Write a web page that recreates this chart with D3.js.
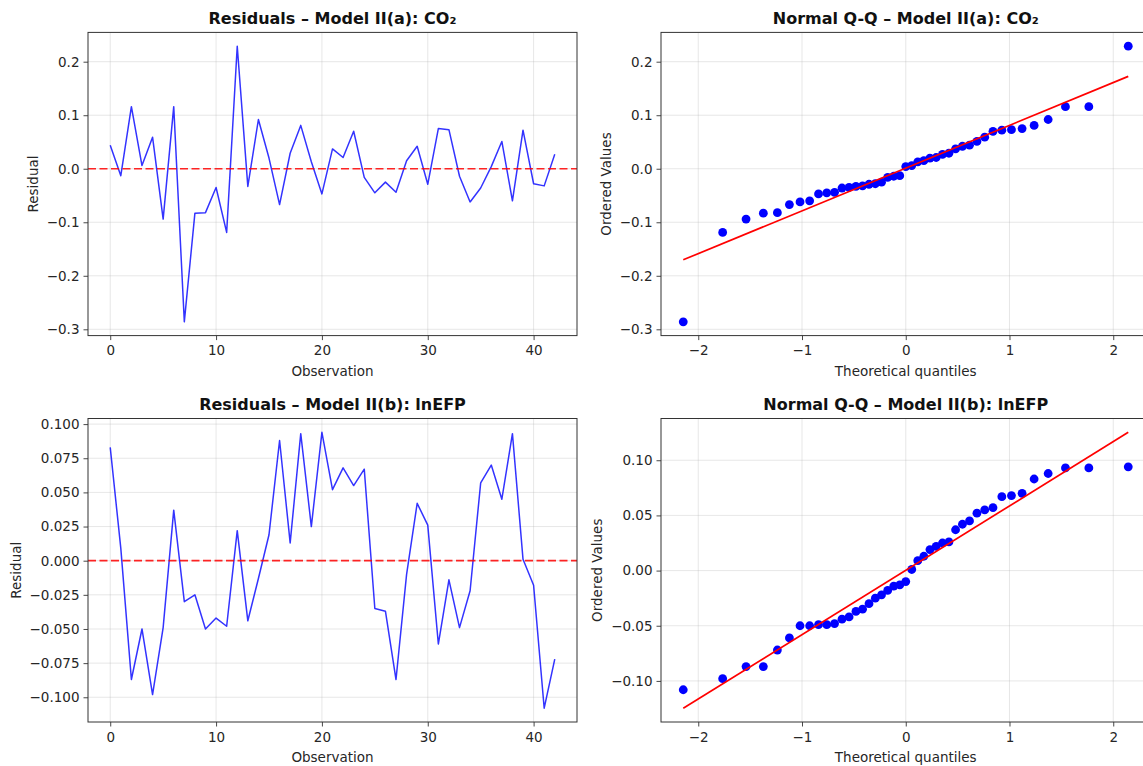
<!DOCTYPE html>
<html>
<head>
<meta charset="utf-8">
<script src="https://cdn.jsdelivr.net/npm/d3@7"></script>
<style>
  html, body { margin: 0; padding: 0; background: #ffffff; }
  svg { display: block; font-family: "DejaVu Sans", sans-serif; }
</style>
</head>
<body>
<svg id="chart" width="1143" height="766"></svg>
<script>
// ---------- data ----------
const residualsCO2 = [0.044, -0.013, 0.116, 0.006, 0.059, -0.094, 0.116, -0.286, -0.083, -0.082,
  -0.035, -0.119, 0.229, -0.033, 0.092, 0.020, -0.067, 0.029, 0.081, 0.013,
  -0.047, 0.037, 0.021, 0.070, -0.016, -0.045, -0.025, -0.044, 0.015, 0.042,
  -0.029, 0.075, 0.073, -0.014, -0.062, -0.036, 0.004, 0.051, -0.060, 0.072,
  -0.028, -0.032, 0.027];

const residualsEFP = [0.083, 0.009, -0.087, -0.050, -0.098, -0.049, 0.037, -0.030, -0.025, -0.050,
  -0.042, -0.048, 0.022, -0.044, -0.013, 0.019, 0.088, 0.013, 0.093, 0.025,
  0.094, 0.052, 0.068, 0.055, 0.067, -0.035, -0.037, -0.087, -0.010, 0.042,
  0.026, -0.061, -0.014, -0.049, -0.022, 0.057, 0.070, 0.045, 0.093, 0.001,
  -0.018, -0.108, -0.072];

const theoreticalQuantiles = [-2.1447, -1.7648, -1.5394, -1.3727, -1.2374, -1.1215, -1.0190, -0.9263,
  -0.8408, -0.7612, -0.6861, -0.6146, -0.5462, -0.4803, -0.4163, -0.3541, -0.2932, -0.2333,
  -0.1743, -0.1159, -0.0578, 0, 0.0578, 0.1159, 0.1743, 0.2333, 0.2932, 0.3541, 0.4163,
  0.4803, 0.5462, 0.6146, 0.6861, 0.7612, 0.8408, 0.9263, 1.0190, 1.1215, 1.2374, 1.3727,
  1.5394, 1.7648, 2.1447];

const orderedCO2 = [-0.286, -0.119, -0.094, -0.083, -0.082, -0.067, -0.062, -0.060, -0.047, -0.045,
  -0.044, -0.036, -0.035, -0.033, -0.032, -0.029, -0.028, -0.025, -0.016, -0.014,
  -0.013, 0.004, 0.006, 0.013, 0.015, 0.020, 0.021, 0.027, 0.029, 0.037,
  0.042, 0.044, 0.051, 0.059, 0.070, 0.072, 0.073, 0.075, 0.081, 0.092,
  0.116, 0.116, 0.229];

const orderedEFP = [-0.108, -0.098, -0.087, -0.087, -0.072, -0.061, -0.050, -0.050, -0.049, -0.049,
  -0.048, -0.044, -0.042, -0.037, -0.035, -0.030, -0.025, -0.022, -0.018, -0.014,
  -0.013, -0.010, 0.001, 0.009, 0.013, 0.019, 0.022, 0.025, 0.026, 0.037,
  0.042, 0.045, 0.052, 0.055, 0.057, 0.067, 0.068, 0.070, 0.083, 0.088,
  0.093, 0.093, 0.094];

// fitted reference lines [slope, intercept]
const fitCO2 = [0.0799, 0.0012];
const fitEFP = [0.0583, 0.0003];

// tick values
const obsTicks = [0, 10, 20, 30, 40];
const qqXTicks = [-2, -1, 0, 1, 2];
const co2Ticks = [-0.3, -0.2, -0.1, 0.0, 0.1, 0.2];
const efpTicks = [-0.100, -0.075, -0.050, -0.025, 0.000, 0.025, 0.050, 0.075, 0.100];
const qqEfpTicks = [-0.10, -0.05, 0.00, 0.05, 0.10];

const titles = ["Residuals \u2013 Model II(a): CO\u2082", "Normal Q-Q \u2013 Model II(a): CO\u2082",
                "Residuals \u2013 Model II(b): lnEFP", "Normal Q-Q \u2013 Model II(b): lnEFP"];

// ---------- helpers ----------
const svg = d3.select("#chart");
const minus = s => s.replace("-", "\u2212");

function padDomain(vals) {
  const [lo, hi] = d3.extent(vals);
  const p = (hi - lo) * 0.05;
  return [lo - p, hi + p];
}

function panel(cfg) {
  const g = svg.append("g");
  const x = d3.scaleLinear().domain(cfg.xDomain).range([cfg.left, cfg.right]);
  const y = d3.scaleLinear().domain(cfg.yDomain).range([cfg.bottom, cfg.top]);

  const clipId = "clip" + cfg.id;
  svg.append("clipPath").attr("id", clipId).append("rect")
    .attr("x", cfg.left).attr("y", cfg.top)
    .attr("width", cfg.right - cfg.left).attr("height", cfg.bottom - cfg.top);

  // grid
  const grid = g.append("g");
  grid.selectAll(".gx").data(cfg.xTicks).enter().append("line")
    .attr("x1", d => x(d)).attr("x2", d => x(d))
    .attr("y1", cfg.top).attr("y2", cfg.bottom)
    .attr("stroke", "#b0b0b0").attr("stroke-opacity", 0.35).attr("stroke-width", 0.9);
  grid.selectAll(".gy").data(cfg.yTicks).enter().append("line")
    .attr("x1", cfg.left).attr("x2", cfg.right)
    .attr("y1", d => y(d)).attr("y2", d => y(d))
    .attr("stroke", "#b0b0b0").attr("stroke-opacity", 0.35).attr("stroke-width", 0.9);

  const plot = g.append("g").attr("clip-path", `url(#${clipId})`);
  cfg.draw(plot, x, y);

  // axes
  const xAxis = d3.axisBottom(x).tickValues(cfg.xTicks).tickSize(4.5).tickPadding(5.5)
    .tickFormat(d => minus(d3.format("d")(d)));
  const gx = g.append("g").attr("transform", `translate(0,${cfg.bottom})`).call(xAxis);
  const yAxis = d3.axisLeft(y).tickValues(cfg.yTicks).tickSize(4.5).tickPadding(4)
    .tickFormat(d => minus(d3.format(cfg.yFmt)(d)));
  const gy = g.append("g").attr("transform", `translate(${cfg.left},0)`).call(yAxis);
  [gx, gy].forEach(a => {
    a.select(".domain").remove();
    a.selectAll(".tick line").attr("stroke", "#333").attr("stroke-width", 0.9);
    a.selectAll(".tick text").attr("fill", "#262626")
      .style("font-size", "13.5px").style("font-family", "DejaVu Sans, sans-serif");
  });

  // frame
  g.append("rect").attr("x", cfg.left).attr("y", cfg.top)
    .attr("width", cfg.right - cfg.left).attr("height", cfg.bottom - cfg.top)
    .attr("fill", "none").attr("stroke", "#333").attr("stroke-width", 1);

  // title
  g.append("text").attr("x", (cfg.left + cfg.right) / 2).attr("y", cfg.top - 8.5)
    .attr("text-anchor", "middle").attr("fill", "#111")
    .style("font-size", "16px").style("font-weight", "bold").text(cfg.title);
  // x label
  g.append("text").attr("x", (cfg.left + cfg.right) / 2).attr("y", cfg.bottom + 40)
    .attr("text-anchor", "middle").attr("fill", "#262626")
    .style("font-size", "13.5px").text(cfg.xLabel);
  // y label
  const ly = (cfg.top + cfg.bottom) / 2;
  const lx = cfg.left - cfg.yLabelOffset;
  g.append("text").attr("transform", `translate(${lx},${ly}) rotate(-90)`)
    .attr("text-anchor", "middle").attr("fill", "#262626")
    .style("font-size", "13.5px").text(cfg.yLabel);
}

function residualDraw(values) {
  return (plot, x, y) => {
    plot.append("path").datum(values)
      .attr("fill", "none").attr("stroke", "#0000ff").attr("stroke-opacity", 0.8)
      .attr("stroke-width", 1.5).attr("stroke-linejoin", "round")
      .attr("d", d3.line().x((d, i) => x(i)).y(d => y(d)));
    plot.append("line")
      .attr("x1", x.range()[0]).attr("x2", x.range()[1])
      .attr("y1", y(0)).attr("y2", y(0))
      .attr("stroke", "#ff0000").attr("stroke-opacity", 0.85)
      .attr("stroke-width", 1.7).attr("stroke-dasharray", "8,3.5");
  };
}

function qqDraw(values, fit) {
  return (plot, x, y) => {
    const ends = d3.extent(theoreticalQuantiles);
    plot.selectAll("circle").data(values).enter().append("circle")
      .attr("cx", (d, i) => x(theoreticalQuantiles[i])).attr("cy", d => y(d))
      .attr("r", 4.4).attr("fill", "#0000ff");
    plot.append("line")
      .attr("x1", x(ends[0])).attr("y1", y(fit[0] * ends[0] + fit[1]))
      .attr("x2", x(ends[1])).attr("y2", y(fit[0] * ends[1] + fit[1]))
      .attr("stroke", "#ff0000").attr("stroke-width", 1.7);
  };
}

const obsDomain = padDomain([0, residualsCO2.length - 1]);
const qqDomain = padDomain(theoreticalQuantiles);
const qqLineVals = (fit) => d3.extent(theoreticalQuantiles).map(t => fit[0] * t + fit[1]);

panel({
  id: 1, left: 88, right: 577, top: 32.4, bottom: 335.6,
  xDomain: obsDomain, yDomain: padDomain(residualsCO2),
  xTicks: obsTicks, yTicks: co2Ticks, yFmt: ".1f",
  title: titles[0], xLabel: "Observation", yLabel: "Residual", yLabelOffset: 50.3,
  draw: residualDraw(residualsCO2)
});
panel({
  id: 2, left: 661, right: 1150.5, top: 32.4, bottom: 335.6,
  xDomain: qqDomain, yDomain: padDomain(orderedCO2.concat(qqLineVals(fitCO2))),
  xTicks: qqXTicks, yTicks: co2Ticks, yFmt: ".1f",
  title: titles[1], xLabel: "Theoretical quantiles", yLabel: "Ordered Values", yLabelOffset: 50.3,
  draw: qqDraw(orderedCO2, fitCO2)
});
panel({
  id: 3, left: 88, right: 577, top: 418.5, bottom: 722,
  xDomain: obsDomain, yDomain: padDomain(residualsEFP),
  xTicks: obsTicks, yTicks: efpTicks, yFmt: ".3f",
  title: titles[2], xLabel: "Observation", yLabel: "Residual", yLabelOffset: 67.3,
  draw: residualDraw(residualsEFP)
});
panel({
  id: 4, left: 661, right: 1150.5, top: 418.5, bottom: 722,
  xDomain: qqDomain, yDomain: padDomain(orderedEFP.concat(qqLineVals(fitEFP))),
  xTicks: qqXTicks, yTicks: qqEfpTicks, yFmt: ".2f",
  title: titles[3], xLabel: "Theoretical quantiles", yLabel: "Ordered Values", yLabelOffset: 59.3,
  draw: qqDraw(orderedEFP, fitEFP)
});
</script>
</body>
</html>
